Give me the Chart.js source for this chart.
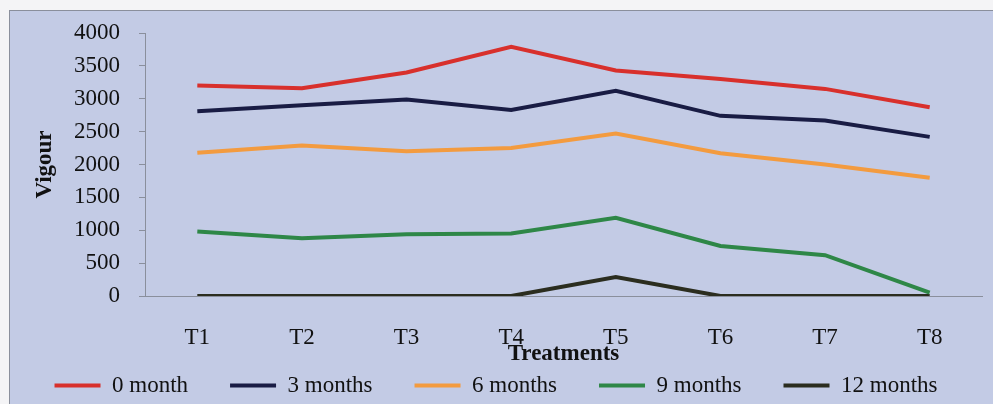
<!DOCTYPE html>
<html>
<head>
<meta charset="utf-8">
<script src="https://cdn.jsdelivr.net/npm/chart.js@4"></script>
<style>
  html, body { margin: 0; padding: 0; background: #f4f4f6; }
  .marco { position: absolute; left: 9px; top: 10px; width: 983px; height: 393px;
    background: #c3cbe5; border-left: 1px solid #8a8f9c; border-top: 1px solid #8a8f9c; }
  canvas { display: block; }
</style>
</head>
<body>
<div class="marco"><canvas id="chVigour" width="983" height="393"></canvas></div>
<script>
  // Vigour por tratamiento y tiempo de almacenamiento
  var TRATAMIENTOS = ['T1', 'T2', 'T3', 'T4', 'T5', 'T6', 'T7', 'T8'];
  var MES_0 = [3200, 3160, 3400, 3790, 3430, 3300, 3150, 2870];
  var MES_3 = [2810, 2900, 2990, 2830, 3120, 2740, 2670, 2420];
  var MES_6 = [2180, 2290, 2200, 2250, 2470, 2170, 2000, 1800];
  var MES_9 = [980, 880, 940, 950, 1190, 760, 620, 50];
  var MES_12 = [0, 0, 0, 0, 290, 0, 0, 0];

  var SERIF = "'Liberation Serif', 'Times New Roman', serif";
  var ALTO_LEYENDA = 38;

  function serie(label, datos, color) {
    return { label: label, data: datos, borderColor: color, backgroundColor: color,
      borderWidth: 4, pointRadius: 0, tension: 0, fill: false };
  }

  // La leyenda usa el mismo padding en horizontal y en vertical: se deja la
  // separacion horizontal amplia pero se le quita alto para no tapar el eje x
  var leyendaCompacta = {
    id: 'leyendaCompacta',
    beforeLayout: function (chart) {
      var lg = chart.legend;
      if (!lg || lg._compacta) return;
      var fit = lg.fit, draw = lg.draw;
      lg.fit = function () { fit.call(this); this.height = ALTO_LEYENDA; };
      lg.draw = function () {
        var d = this.options.labels.padding - 8;
        this.top -= d;
        draw.call(this);
        this.top += d;
      };
      lg._compacta = true;
    }
  };

  new Chart(document.getElementById('chVigour'), {
    type: 'line',
    data: {
      labels: TRATAMIENTOS,
      datasets: [
        serie('0 month', MES_0, '#d8302c'),
        serie('3 months', MES_3, '#191c44'),
        serie('6 months', MES_6, '#f39b3f'),
        serie('9 months', MES_9, '#2e8747'),
        serie('12 months', MES_12, '#2b2d1f')
      ]
    },
    plugins: [leyendaCompacta],
    options: {
      responsive: false,
      animation: false,
      layout: { padding: { top: 22, right: 11, left: 0, bottom: 0 } },
      plugins: {
        tooltip: { enabled: false },
        legend: {
          position: 'bottom',
          labels: {
            color: '#111', font: { family: SERIF, size: 23 },
            boxWidth: 46, boxHeight: 4, padding: 42,
            generateLabels: function (chart) {
              var items = Chart.defaults.plugins.legend.labels.generateLabels(chart);
              items.forEach(function (it) { it.lineWidth = 0; });
              return items;
            }
          }
        }
      },
      scales: {
        x: {
          offset: true,
          afterFit: function (s) { s.height = 70; },
          grid: { drawOnChartArea: false, drawTicks: false },
          border: { display: true, color: '#8a8f9c', width: 1 },
          ticks: { color: '#111', font: { family: SERIF, size: 23 }, padding: 28 },
          title: { display: true, text: 'Treatments', color: '#111',
            font: { family: SERIF, size: 23, weight: 'bold' }, padding: { top: 0, bottom: -2 } }
        },
        y: {
          min: 0, max: 4000,
          afterFit: function (s) { s.width = 135; s.paddingTop = 0; s.paddingBottom = 0; },
          grid: { drawOnChartArea: false, drawTicks: true, tickLength: 6, color: '#8a8f9c' },
          border: { display: true, color: '#8a8f9c', width: 1 },
          ticks: { stepSize: 500, color: '#111', font: { family: SERIF, size: 23 }, padding: 19,
            callback: function (v) { return String(v); } },
          title: { display: true, text: 'Vigour', color: '#111',
            font: { family: SERIF, size: 23, weight: 'bold' }, padding: { top: 21, bottom: 0 } }
        }
      }
    }
  });
</script>
</body>
</html>
